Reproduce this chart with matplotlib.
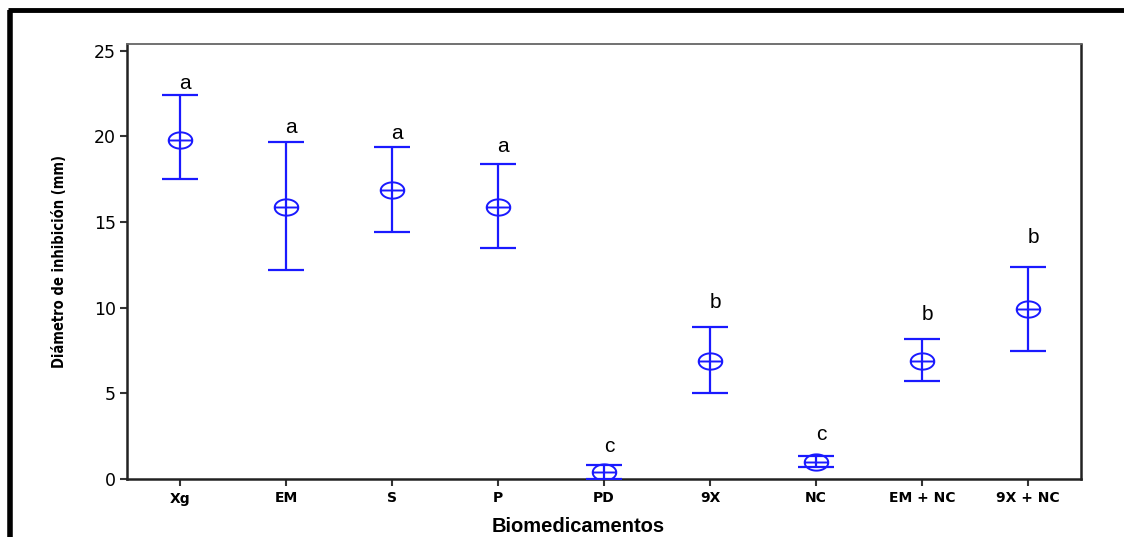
import matplotlib
matplotlib.use("Agg")
import matplotlib.pyplot as plt
import numpy as np
from matplotlib.path import Path
from matplotlib.lines import Line2D

categories = ["Xg", "EM", "S", "P", "PD", "9X", "NC", "EM + NC", "9X + NC"]
means = [19.8, 15.9, 16.9, 15.9, 0.4, 6.9, 1.0, 6.9, 9.9]
upper = [22.4, 19.7, 19.4, 18.4, 0.8, 8.9, 1.35, 8.2, 12.4]
lower = [17.5, 12.2, 14.4, 13.5, 0.0, 5.0, 0.7, 5.7, 7.5]
letters = ["a", "a", "a", "a", "c", "b", "c", "b", "b"]
letter_y = [23.1, 20.5, 20.2, 19.4, 1.9, 10.3, 2.6, 9.6, 14.1]
yticks = [0, 5, 10, 15, 20, 25]

blue = "#1a1aff"

fig = plt.figure(figsize=(11.24, 5.37), dpi=100)
ax = fig.add_axes([127/1124, 1-479/537, (1081-127)/1124, (479-44)/537])

x = np.arange(len(categories))
means_a = np.array(means)
yerr = np.vstack([means_a - np.array(lower), np.array(upper) - means_a])

ax.errorbar(x, means_a, yerr=yerr, fmt="none", ecolor=blue, elinewidth=1.6,
            capsize=13, capthick=1.6, zorder=3)

# ellipse-with-crossbar marker
t = np.linspace(0, 2*np.pi, 60)
verts = list(zip(1.45*np.cos(t), np.sin(t)))
codes = [Path.MOVETO] + [Path.LINETO]*(len(verts)-1)
verts += [(-1.45, 0), (1.45, 0)]
codes += [Path.MOVETO, Path.LINETO]
marker = Path(verts, codes)
ax.plot(x, means_a, linestyle="none", marker=marker, markersize=17,
        markerfacecolor="none", markeredgecolor=blue, markeredgewidth=1.4, zorder=4)

for xi, lab, ly in zip(x, letters, letter_y):
    ax.text(xi + 0.05, ly, lab, ha="center", va="center", fontsize=15,
            family="Liberation Sans", color="black")

ax.set_xlim(-0.5, 8.5)
ax.set_ylim(0, 25.4)
ax.set_yticks(yticks)
ax.set_yticklabels([str(v) for v in yticks], fontsize=12.5, family="DejaVu Sans")
ax.set_xticks(x)
ax.set_xticklabels(categories, fontsize=10, fontweight="bold", family="DejaVu Sans")
ax.tick_params(axis="both", direction="out", length=5, width=1.5, color="#333333")
ax.tick_params(axis="y", pad=3)
ax.tick_params(axis="x", pad=4)

for s in ["left", "bottom", "right"]:
    ax.spines[s].set_linewidth(1.8)
    ax.spines[s].set_color("#222222")
ax.spines["top"].set_linewidth(1.3)
ax.spines["top"].set_color("#666666")

ax.set_ylabel("Diámetro de inhibición (mm)", fontsize=10.5, fontweight="bold",
              family="DejaVu Sans", fontstretch="condensed")
ax.yaxis.set_label_coords((67-127)/954, 0.5)
ax.set_xlabel("Biomedicamentos", fontsize=14.5, fontweight="bold", family="Liberation Sans")
ax.xaxis.set_label_coords((578-127)/954, -(526-479)/435)
ax.xaxis.label.set_va("center")

# outer black frame (top and left)
fig.add_artist(Line2D([8/1124, 1.0], [1-10/537, 1-10/537], color="black", linewidth=3.5,
                      solid_capstyle="butt", transform=fig.transFigure))
fig.add_artist(Line2D([10/1124, 10/1124], [1-10/537, 0.0], color="black", linewidth=4,
                      solid_capstyle="butt", transform=fig.transFigure))

fig.savefig("out.png", dpi=100)
